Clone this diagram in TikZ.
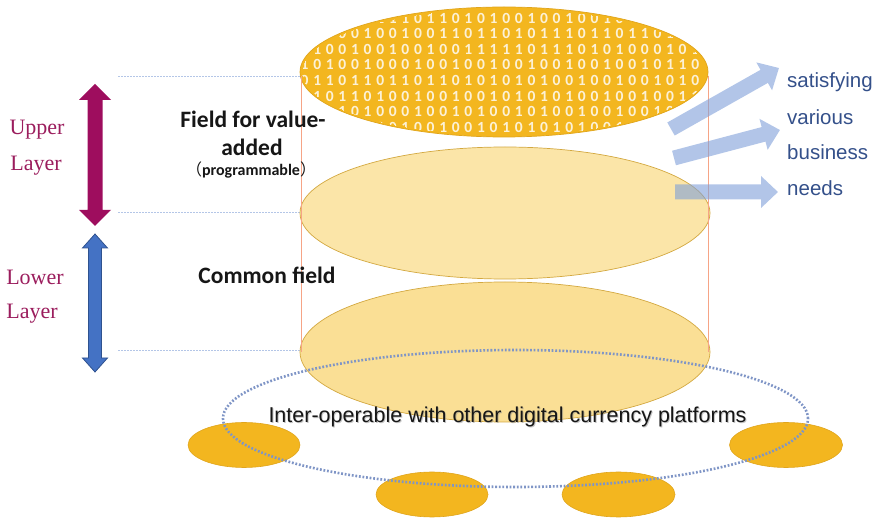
\documentclass[tikz,border=0pt]{standalone}
\usepackage{fontspec}
\setmainfont{Liberation Serif}
\newfontfamily\calibri{Carlito}
\newfontfamily\arial{Liberation Sans}
\newfontfamily\cjk{Noto Sans CJK SC}
\usetikzlibrary{arrows.meta}

\definecolor{goldfill}{HTML}{F3B61F}
\definecolor{goldedge}{HTML}{E0A51C}
\definecolor{paleone}{HTML}{FBE5A8}
\definecolor{paletwo}{HTML}{FADF95}
\definecolor{paleedge}{HTML}{D3A840}
\definecolor{sideline}{HTML}{F6A486}
\definecolor{guide}{HTML}{B4C6E7}
\definecolor{ringblue}{HTML}{7F95C6}
\definecolor{plum}{HTML}{9E0D5E}
\definecolor{plumtext}{HTML}{9B1D5D}
\definecolor{steel}{HTML}{4472C4}
\definecolor{steeledge}{HTML}{2F528F}
\definecolor{skyarrow}{HTML}{7F9FD8}
\definecolor{needtext}{HTML}{34508A}
\definecolor{darktext}{HTML}{161616}

% one row of binary digits on a fixed grid
\newcommand\bitrow[1]{\bitstep#1\relax}
\newcommand\bitstep[1]{\ifx#1\relax\else\makebox[12.6pt]{#1}\expandafter\bitstep\fi}

% vertical double arrow: x, y top, y bottom, shaft half width, head half width, head length
\newcommand\vdoublearrow[7]{%
  \path[#7] (#1-#4,#2+#6) -- (#1-#5,#2+#6) -- (#1,#2) -- (#1+#5,#2+#6) -- (#1+#4,#2+#6)
    -- (#1+#4,#3-#6) -- (#1+#5,#3-#6) -- (#1,#3) -- (#1-#5,#3-#6) -- (#1-#4,#3-#6) -- cycle;}

\tikzset{
  layerlabel/.style={font=\fontsize{22}{24}\selectfont, text=plumtext, inner sep=0},
  fieldlabel/.style={font=\calibri\bfseries\fontsize{23.5}{25}\selectfont, text=darktext, inner sep=0},
  needlabel/.style={font=\arial\fontsize{20.5}{22}\selectfont, text=needtext, inner sep=0, anchor=west},
  bits/.style={font=\calibri\bfseries\fontsize{15.5}{16}\selectfont, text=white, text opacity=0.82, inner sep=0, anchor=west},
  guideline/.style={guide, line width=1pt, dash pattern=on 2pt off 1pt},
  sidestroke/.style={sideline, line width=1pt},
  bigarrow/.style={skyarrow, line width=15pt, -{Triangle[length=17pt,width=31pt]}},
  platform/.style={fill=goldfill, draw=goldedge, line width=0.6pt},
}

\begin{document}
\begin{tikzpicture}[x=1pt,y=-1pt]
\useasboundingbox (0,0) rectangle (879,518);

% dotted guides marking the layer limits
\coordinate (g1a) at (118,77);  \coordinate (g1b) at (300,77);
\coordinate (g2a) at (118,213); \coordinate (g2b) at (300,213);
\coordinate (g3a) at (118,351); \coordinate (g3b) at (300,351);
\draw[guideline] (g1a) -- (g1b);
\draw[guideline] (g2a) -- (g2b);
\draw[guideline] (g3a) -- (g3b);

% layer arrows
\vdoublearrow{95}{84}{226}{7.5}{16}{16}{fill=plum}
\vdoublearrow{95}{234}{372}{6.5}{12.5}{14}{fill=steel, draw=steeledge, line width=0.8pt}

\node[layerlabel] (up1) at (37,130) {Upper};
\node[layerlabel] (up2) at (36,166) {Layer};
\node[layerlabel] (lo1) at (35,277) {Lower};
\node[layerlabel] (lo2) at (32,314) {Layer};

% the three stacked discs
\path[fill=paletwo, draw=paleedge, line width=0.7pt] (505,352) ellipse [x radius=205pt, y radius=70pt];
\path[fill=paleone, draw=paleedge, line width=0.7pt] (505,213) ellipse [x radius=205pt, y radius=66pt];
\path[fill=goldfill, draw=goldedge, line width=0.7pt] (504,72) ellipse [x radius=204pt, y radius=65pt];

\begin{scope}
  \clip (504,72) ellipse [x radius=202pt, y radius=63pt];
  \node[bits] (b1) at (298.1,18)    {\bitrow{10100111101101010010010010010100}};
  \node[bits] (b2) at (298.1,33.6)  {\bitrow{10100100100110110101110110110101}};
  \node[bits] (b3) at (298.1,49.2)  {\bitrow{01001001001001111101110101000101}};
  \node[bits] (b4) at (298.1,64.8)  {\bitrow{10100100010010010010010010010110}};
  \node[bits] (b5) at (298.1,80.4)  {\bitrow{01101101101101010101001001001010}};
  \node[bits] (b6) at (298.1,96)    {\bitrow{11011010010010010101010010010011}};
  \node[bits] (b7) at (298.1,111.6) {\bitrow{01010100010010100101001001001010}};
  \node[bits] (b8) at (298.1,127.2) {\bitrow{10101000100100101010101001010101}};
\end{scope}

% cylinder sides
\coordinate (s1a) at (301,76);  \coordinate (s1b) at (301,352);
\coordinate (s2a) at (708,76);  \coordinate (s2b) at (708,352);
\draw[sidestroke] (s1a) -- (s1b);
\draw[sidestroke] (s2a) -- (s2b);

% field labels
\node[fieldlabel] (f1) at (253,119) {Field for value-};
\node[fieldlabel] (f2) at (252,147) {added};
\node[font=\calibri\bfseries\fontsize{16}{18}\selectfont, text=darktext, inner sep=0] (f3) at (251,170)
  {{\cjk\mdseries（}programmable{\cjk\mdseries）}};
\node[fieldlabel] (cf) at (267,275) {Common field};

% arrows toward the business needs
\coordinate (a1t) at (671,129); \coordinate (a1h) at (779,68);
\coordinate (a2t) at (674,158); \coordinate (a2h) at (780,130);
\coordinate (a3t) at (675,192); \coordinate (a3h) at (778,192);
\begin{scope}[transparency group, opacity=0.6]
  \draw[bigarrow] (a1t) -- (a1h);
\end{scope}
\begin{scope}[transparency group, opacity=0.6]
  \draw[bigarrow] (a2t) -- (a2h);
\end{scope}
\begin{scope}[transparency group, opacity=0.6]
  \draw[bigarrow] (a3t) -- (a3h);
\end{scope}

\node[needlabel] (n1) at (787,82)  {satisfying};
\node[needlabel] (n2) at (787,117) {various};
\node[needlabel] (n3) at (787,152) {business};
\node[needlabel] (n4) at (787,188) {needs};

% other platforms around the ring
\path[platform] (244,445) ellipse [x radius=56pt, y radius=22.5pt];
\path[platform] (786,445) ellipse [x radius=56.5pt, y radius=22.5pt];
\path[platform] (432,494.5) ellipse [x radius=56pt, y radius=22.5pt];
\path[platform] (618.5,494.5) ellipse [x radius=56.5pt, y radius=22.5pt];

\draw[ringblue, line width=2.6pt, dash pattern=on 1.8pt off 1.8pt] (515.5,418.5) ellipse [x radius=292.5pt, y radius=68.5pt];

\node[font=\arial\fontsize{21.5}{23}\selectfont, text=black!45, opacity=0.5, inner sep=0] (ishadow) at (508.5,418) {Inter-operable with other digital currency platforms};
\node[font=\arial\fontsize{21.5}{23}\selectfont, text=darktext, inner sep=0] (inter) at (507.5,417) {Inter-operable with other digital currency platforms};
\end{tikzpicture}
\end{document}
